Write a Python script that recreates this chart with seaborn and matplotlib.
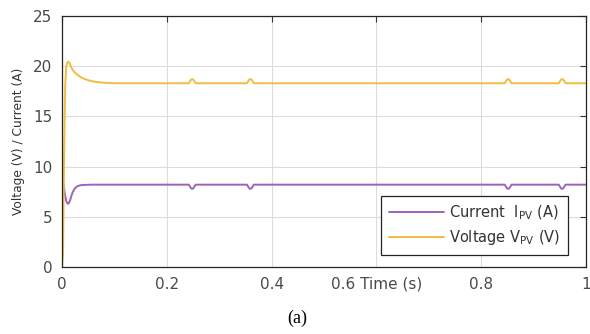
import matplotlib
matplotlib.use("Agg")
import matplotlib.pyplot as plt
import seaborn as sns
import pandas as pd

# Simulated PV array response: time (s), current I_PV (A) and voltage V_PV (V)
time = [0.000, 0.002, 0.004, 0.006, 0.008, 0.010, 0.012, 0.014, 0.016, 0.018,
        0.020, 0.024, 0.028, 0.032, 0.036, 0.040, 0.045, 0.050, 0.060, 0.080,
        0.100, 0.200, 0.242, 0.245, 0.247, 0.250, 0.252, 0.255, 0.300, 0.353,
        0.356, 0.358, 0.361, 0.363, 0.366, 0.500, 0.700, 0.845, 0.848, 0.850,
        0.853, 0.855, 0.858, 0.900, 0.948, 0.951, 0.953, 0.956, 0.958, 0.961,
        1.000]

current = [0.0, 8.4, 7.8, 7.1, 6.6, 6.35, 6.3, 6.45, 6.75, 7.1,
           7.4, 7.8, 8.0, 8.1, 8.15, 8.17, 8.18, 8.19, 8.2, 8.2,
           8.2, 8.2, 8.2, 7.95, 7.8, 7.8, 7.95, 8.2, 8.2, 8.2,
           7.95, 7.8, 7.8, 7.95, 8.2, 8.2, 8.2, 8.2, 7.95, 7.8,
           7.8, 7.95, 8.2, 8.2, 8.2, 7.95, 7.8, 7.8, 7.95, 8.2,
           8.2]

voltage = [0.0, 1.5, 11.0, 18.0, 19.9, 20.35, 20.45, 20.35, 20.1, 19.85,
           19.65, 19.4, 19.2, 19.05, 18.9, 18.8, 18.7, 18.6, 18.47, 18.35,
           18.3, 18.3, 18.3, 18.55, 18.7, 18.7, 18.55, 18.3, 18.3, 18.3,
           18.55, 18.7, 18.7, 18.55, 18.3, 18.3, 18.3, 18.3, 18.55, 18.7,
           18.7, 18.55, 18.3, 18.3, 18.3, 18.55, 18.7, 18.7, 18.55, 18.3,
           18.3]

x_ticks = [0, 0.2, 0.4, 0.6, 0.8, 1.0]
x_tick_labels = ["0", "0.2", "0.4", "0.6 Time (s)", "0.8", "1"]
y_ticks = [0, 5, 10, 15, 20, 25]

df = pd.DataFrame({"t": time, "i": current, "v": voltage})

sns.set_style("white")
plt.rcParams["font.family"] = ["DejaVu Sans"]
plt.rcParams["mathtext.fontset"] = "dejavusans"

fig = plt.figure(figsize=(5.9, 3.34), dpi=100)
ax = fig.add_axes([0.1051, 0.2006, 0.8881, 0.7515])

purple = "#9e62bb"
yellow = "#f1bc42"

sns.lineplot(data=df, x="t", y="i", ax=ax, color=purple, lw=1.4,
             label=r"Current  I$_{\mathrm{PV}}$ (A)")
sns.lineplot(data=df, x="t", y="v", ax=ax, color=yellow, lw=1.4,
             label=r"Voltage V$_{\mathrm{PV}}$ (V)")

ax.set_xlim(0, 1)
ax.set_ylim(0, 25)
ax.set_xticks(x_ticks)
ax.set_xticklabels(x_tick_labels)
ax.set_yticks(y_ticks)
ax.set_xlabel("")
ax.set_ylabel("Voltage (V) / Current (A)", fontsize=8.8, color="#333333", labelpad=6)

ax.grid(True, color="#dcdcdc", lw=0.8)
ax.tick_params(direction="in", length=4, width=0.8, top=True, right=True,
               labelsize=11, labelcolor="#4a4a4a", color="#333333", pad=7)
for s in ax.spines.values():
    s.set_color("#262626")
    s.set_linewidth(0.9)

leg = ax.legend(loc="lower right", bbox_to_anchor=(0.979, 0.02), fontsize=10.5,
                frameon=True, fancybox=False, edgecolor="#222222", framealpha=1,
                handlelength=3.8, handletextpad=0.35, borderpad=0.5,
                labelspacing=0.45)
leg.get_frame().set_linewidth(0.9)
for txt in leg.get_texts():
    txt.set_color("#333333")

fig.text(0.503, 0.048, "(a)", family="Liberation Serif", fontsize=13,
         ha="center", va="center", color="black")

fig.savefig("out.png", dpi=100)
